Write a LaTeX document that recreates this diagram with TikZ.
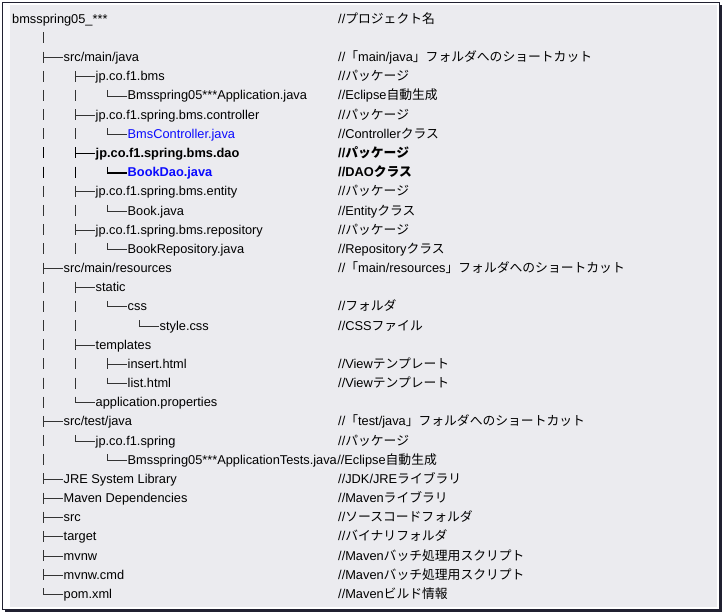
\documentclass[tikz,border=0pt]{standalone}
\usepackage{fontspec}
\setmainfont{Liberation Sans}
\newfontfamily\jp{Noto Sans CJK JP}
\usetikzlibrary{positioning}
\definecolor{boxgray}{RGB}{235,235,239}
\definecolor{framecol}{RGB}{32,32,48}
\definecolor{fileblue}{RGB}{10,10,255}
\tikzset{
  tree/.style={line width=0.9pt, black!80},
  item/.style={anchor=base west, inner sep=0pt, font=\fontsize{12.8}{15}\selectfont},
  note/.style={item},
  strong/.style={tree/.append style={line width=1.8pt, black},
    item/.append style={font=\fontsize{12.8}{15}\selectfont\bfseries}},
}
\newcommand{\ry}[1]{23.3+19.17*#1}% baseline of a row
\newcommand{\vbar}[2]{
  \draw[tree] ({11.5+32*#1},{\ry{#2}-10}) -- ++(0,11);% Draw |
}
\newcommand{\tee}[2]{
  \vbar{#1}{#2}
  \draw[tree] ({11.5+32*#1},{\ry{#2}-4}) -- ++(19,0);% Draw branch
}
\newcommand{\elbow}[2]{
  \draw[tree] ({11.5+32*#1},{\ry{#2}-10}) -- ++(0,6) -- ++(19,0);% Draw last branch
}
\newcommand{\lv}[1]{43.5+32*(#1-1)+20}% text start of a level
\begin{document}
\begin{tikzpicture}[x=1pt,y=-1pt]
  \useasboundingbox (0,0) rectangle (722,612);
  \fill[framecol] (5,609) rectangle (722,612);
  \fill[framecol] (719,5) rectangle (722,612);
  \draw[framecol, line width=1pt] (2.5,2.5) rectangle (719.5,609.5);
  \fill[boxgray] (10,5) rectangle (717,607);

  % tree lines
  \foreach \r in {1,3,5,9,11,15,17,19,23} {\vbar{1}{\r}}
  \foreach \r in {4,6,...,12} {\vbar{1}{\r}}
  \foreach \r in {14,15,...,20,22} {\vbar{1}{\r}}
  \foreach \r in {4,6,10,12,15,16,18,19} {\vbar{2}{\r}}
  \foreach \r in {2,13,21,24,25,...,29} {\tee{1}{\r}}
  \foreach \r in {3,5,9,11,14,17} {\tee{2}{\r}}
  \foreach \r in {4,6,10,12,15,19,23} {\elbow{3}{\r}}
  \tee{3}{18}
  \elbow{4}{16}
  \elbow{2}{20}
  \elbow{2}{22}
  \elbow{1}{30}
  \begin{scope}[strong]
    \vbar{1}{7} \vbar{1}{8} \vbar{2}{8}
    \tee{2}{7}
    \elbow{3}{8}
  \end{scope}

  % names
  \node[item] (root) at (12,{\ry{0}}) {bmsspring05\_***};
  \node[item] (smj) at ({\lv{1}},{\ry{2}}) {src/main/java};
  \node[item] (pkgbms) at ({\lv{2}},{\ry{3}}) {jp.co.f1.bms};
  \node[item] (appjava) at ({\lv{3}},{\ry{4}}) {Bmsspring05***Application.java};
  \node[item] (pkgctrl) at ({\lv{2}},{\ry{5}}) {jp.co.f1.spring.bms.controller};
  \node[item, text=fileblue] (ctrljava) at ({\lv{3}},{\ry{6}}) {BmsController.java};
  \begin{scope}[strong]
    \node[item] (pkgdao) at ({\lv{2}},{\ry{7}}) {jp.co.f1.spring.bms.dao};
    \node[item, text=fileblue] (daojava) at ({\lv{3}},{\ry{8}}) {BookDao.java};
  \end{scope}
  \node[item] (pkgent) at ({\lv{2}},{\ry{9}}) {jp.co.f1.spring.bms.entity};
  \node[item] (bookjava) at ({\lv{3}},{\ry{10}}) {Book.java};
  \node[item] (pkgrepo) at ({\lv{2}},{\ry{11}}) {jp.co.f1.spring.bms.repository};
  \node[item] (repojava) at ({\lv{3}},{\ry{12}}) {BookRepository.java};
  \node[item] (smr) at ({\lv{1}},{\ry{13}}) {src/main/resources};
  \node[item] (static) at ({\lv{2}},{\ry{14}}) {static};
  \node[item] (css) at ({\lv{3}},{\ry{15}}) {css};
  \node[item] (stylecss) at ({\lv{4}},{\ry{16}}) {style.css};
  \node[item] (tmpl) at ({\lv{2}},{\ry{17}}) {templates};
  \node[item] (insert) at ({\lv{3}},{\ry{18}}) {insert.html};
  \node[item] (list) at ({\lv{3}},{\ry{19}}) {list.html};
  \node[item] (appprops) at ({\lv{2}},{\ry{20}}) {application.properties};
  \node[item] (stj) at ({\lv{1}},{\ry{21}}) {src/test/java};
  \node[item] (pkgspring) at ({\lv{2}},{\ry{22}}) {jp.co.f1.spring};
  \node[item] (testsjava) at ({\lv{3}},{\ry{23}}) {Bmsspring05***ApplicationTests.java};
  \node[item] (jre) at ({\lv{1}},{\ry{24}}) {JRE System Library};
  \node[item] (mvndeps) at ({\lv{1}},{\ry{25}}) {Maven Dependencies};
  \node[item] (src) at ({\lv{1}},{\ry{26}}) {src};
  \node[item] (target) at ({\lv{1}},{\ry{27}}) {target};
  \node[item] (mvnw) at ({\lv{1}},{\ry{28}}) {mvnw};
  \node[item] (mvnwcmd) at ({\lv{1}},{\ry{29}}) {mvnw.cmd};
  \node[item] (pom) at ({\lv{1}},{\ry{30}}) {pom.xml};

  % comments
  \node[note] (n-root) at (338,{\ry{0}}) {//{\jp プロジェクト名}};
  \node[note] (n-smj) at (338,{\ry{2}}) {//{\jp 「}main/java{\jp 」フォルダへのショートカット}};
  \node[note] (n-pkgbms) at (338,{\ry{3}}) {//{\jp パッケージ}};
  \node[note] (n-appjava) at (338,{\ry{4}}) {//Eclipse{\jp 自動生成}};
  \node[note] (n-pkgctrl) at (338,{\ry{5}}) {//{\jp パッケージ}};
  \node[note] (n-ctrljava) at (338,{\ry{6}}) {//Controller{\jp クラス}};
  \begin{scope}[strong]
    \node[item] (n-pkgdao) at (338,{\ry{7}}) {//{\jp\bfseries パッケージ}};
    \node[item] (n-daojava) at (338,{\ry{8}}) {//DAO{\jp\bfseries クラス}};
  \end{scope}
  \node[note] (n-pkgent) at (338,{\ry{9}}) {//{\jp パッケージ}};
  \node[note] (n-bookjava) at (338,{\ry{10}}) {//Entity{\jp クラス}};
  \node[note] (n-pkgrepo) at (338,{\ry{11}}) {//{\jp パッケージ}};
  \node[note] (n-repojava) at (338,{\ry{12}}) {//Repository{\jp クラス}};
  \node[note] (n-smr) at (338,{\ry{13}}) {//{\jp 「}main/resources{\jp 」フォルダへのショートカット}};
  \node[note] (n-css) at (338,{\ry{15}}) {//{\jp フォルダ}};
  \node[note] (n-stylecss) at (338,{\ry{16}}) {//CSS{\jp ファイル}};
  \node[note] (n-insert) at (338,{\ry{18}}) {//View{\jp テンプレート}};
  \node[note] (n-list) at (338,{\ry{19}}) {//View{\jp テンプレート}};
  \node[note] (n-stj) at (338,{\ry{21}}) {//{\jp 「}test/java{\jp 」フォルダへのショートカット}};
  \node[note] (n-pkgspring) at (338,{\ry{22}}) {//{\jp パッケージ}};
  \node[note, right=0pt of testsjava.base east, anchor=base west] (n-testsjava) {//Eclipse{\jp 自動生成}};
  \node[note] (n-jre) at (338,{\ry{24}}) {//JDK/JRE{\jp ライブラリ}};
  \node[note] (n-mvndeps) at (338,{\ry{25}}) {//Maven{\jp ライブラリ}};
  \node[note] (n-src) at (338,{\ry{26}}) {//{\jp ソースコードフォルダ}};
  \node[note] (n-target) at (338,{\ry{27}}) {//{\jp バイナリフォルダ}};
  \node[note] (n-mvnw) at (338,{\ry{28}}) {//Maven{\jp バッチ処理用スクリプト}};
  \node[note] (n-mvnwcmd) at (338,{\ry{29}}) {//Maven{\jp バッチ処理用スクリプト}};
  \node[note] (n-pom) at (338,{\ry{30}}) {//Maven{\jp ビルド情報}};
\end{tikzpicture}
\end{document}
